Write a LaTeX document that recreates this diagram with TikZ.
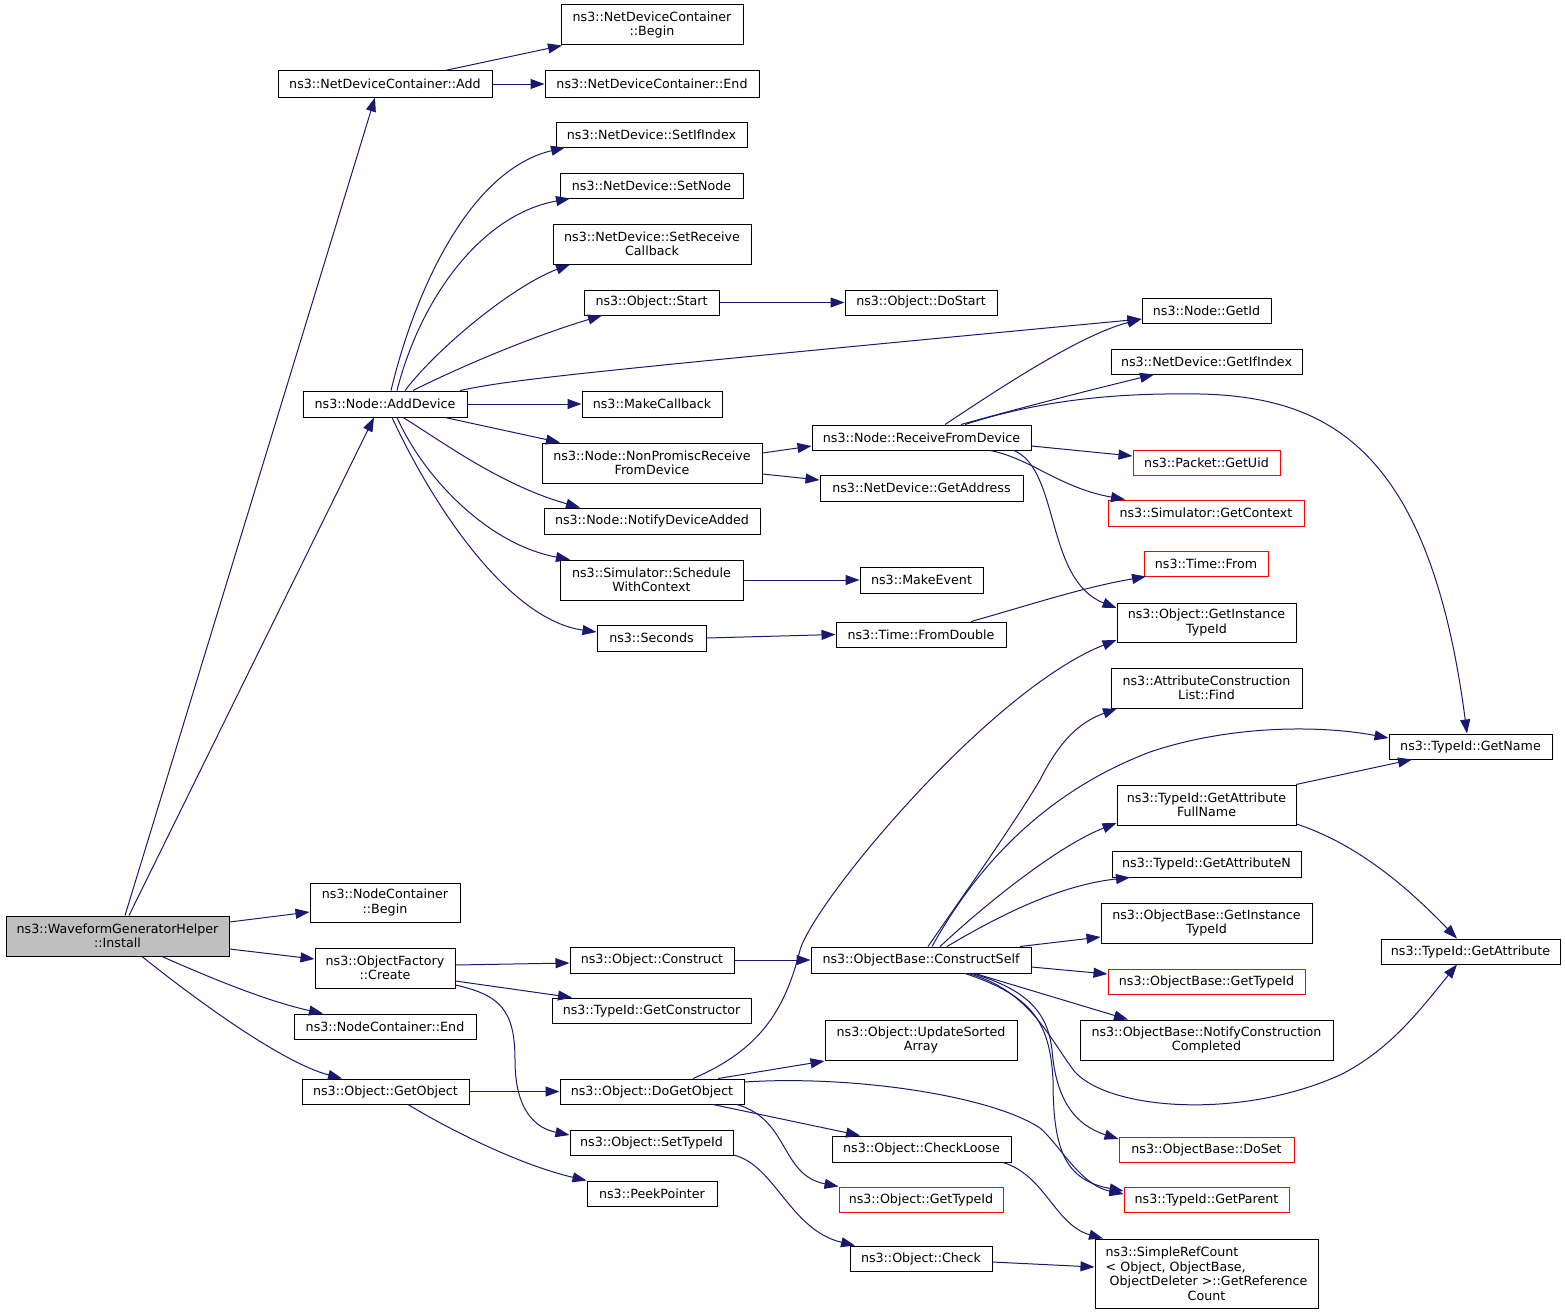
\documentclass[tikz,border=0pt]{standalone}
\usepackage{fontspec}
\setmainfont{DejaVu Sans}
\usetikzlibrary{arrows.meta}
\definecolor{edgeblue}{HTML}{191970}
\definecolor{fillgray}{HTML}{BFBFBF}
\tikzset{
  box/.style={draw=black, line width=0.75pt, fill=white, inner sep=0pt, align=center,
              font=\fontsize{9.5}{10.8}\selectfont},
  redbox/.style={draw=red},
  graybox/.style={fill=fillgray},
  edge/.style={draw=edgeblue, line width=0.75pt, -{Triangle[length=10.5pt,width=7.5pt]}},
}
\newcommand{\mybox}[7][]{%
  \pgfmathsetmacro\bxcx{(#3+#5)/2}%
  \pgfmathsetmacro\bxcy{(#4+#6)/2}%
  \pgfmathsetmacro\bxw{(#5-#3)*0.75}%
  \pgfmathsetmacro\bxh{(#6-#4)*0.75}%
  \node[box,#1,minimum width=\bxw pt,minimum height=\bxh pt] (#2) at (\bxcx,\bxcy) {#7};%
}
\begin{document}
\begin{tikzpicture}[x=0.75pt,y=-0.75pt]
\useasboundingbox (0,0) rectangle (1565,1313);
% nodes
\mybox[graybox]{install}{6}{916}{229}{956}{ns3::WaveformGeneratorHelper\\::Install}
\mybox{ncbegin}{310}{883}{460}{922}{ns3::NodeContainer\\::Begin}
\mybox{ofcreate}{315}{948}{455}{988}{ns3::ObjectFactory\\::Create}
\mybox{ncend}{294}{1014}{476}{1039}{ns3::NodeContainer::End}
\mybox{getobj}{302}{1079}{469}{1104}{ns3::Object::GetObject}
\mybox{add}{278}{71}{492}{97}{ns3::NetDeviceContainer::Add}
\mybox{ndcbegin}{561}{5}{743}{45}{ns3::NetDeviceContainer\\::Begin}
\mybox{ndcend}{545}{71}{759}{97}{ns3::NetDeviceContainer::End}
\mybox{setifidx}{556}{122}{747}{147}{ns3::NetDevice::SetIfIndex}
\mybox{setnode}{560}{173}{743}{198}{ns3::NetDevice::SetNode}
\mybox{setrecv}{553}{224}{751}{264}{ns3::NetDevice::SetReceive\\Callback}
\mybox{ostart}{584}{290}{719}{315}{ns3::Object::Start}
\mybox{adddev}{303}{391}{467}{417}{ns3::Node::AddDevice}
\mybox{mkcb}{582}{391}{722}{417}{ns3::MakeCallback}
\mybox{nonprom}{542}{443}{762}{483}{ns3::Node::NonPromiscReceive\\FromDevice}
\mybox{notify}{544}{508}{760}{534}{ns3::Node::NotifyDeviceAdded}
\mybox{sched}{560}{560}{743}{600}{ns3::Simulator::Schedule\\WithContext}
\mybox{secs}{597}{625}{706}{651}{ns3::Seconds}
\mybox{dostart}{845}{290}{997}{315}{ns3::Object::DoStart}
\mybox{gid}{1142}{298}{1271}{323}{ns3::Node::GetId}
\mybox{gifidx}{1111}{349}{1302}{374}{ns3::NetDevice::GetIfIndex}
\mybox{rfd}{812}{425}{1031}{450}{ns3::Node::ReceiveFromDevice}
\mybox[redbox]{uid}{1133}{450}{1280}{475}{ns3::Packet::GetUid}
\mybox{getaddr}{820}{475}{1023}{501}{ns3::NetDevice::GetAddress}
\mybox[redbox]{ctx}{1108}{500}{1304}{526}{ns3::Simulator::GetContext}
\mybox[redbox]{tfrom}{1144}{551}{1268}{576}{ns3::Time::From}
\mybox{mkevent}{860}{567}{983}{593}{ns3::MakeEvent}
\mybox{fromdbl}{836}{622}{1006}{647}{ns3::Time::FromDouble}
\mybox{goit}{1117}{603}{1296}{642}{ns3::Object::GetInstance\\TypeId}
\mybox{acl}{1111}{668}{1302}{708}{ns3::AttributeConstruction\\List::Find}
\mybox{gname}{1389}{734}{1552}{759}{ns3::TypeId::GetName}
\mybox{gafn}{1117}{785}{1296}{825}{ns3::TypeId::GetAttribute\\FullName}
\mybox{gan}{1112}{851}{1301}{877}{ns3::TypeId::GetAttributeN}
\mybox{obgit}{1101}{903}{1312}{943}{ns3::ObjectBase::GetInstance\\TypeId}
\mybox{gattr}{1381}{939}{1560}{964}{ns3::TypeId::GetAttribute}
\mybox[redbox]{obgtid}{1108}{969}{1305}{994}{ns3::ObjectBase::GetTypeId}
\mybox{ncc}{1080}{1020}{1333}{1060}{ns3::ObjectBase::NotifyConstruction\\Completed}
\mybox{construct}{570}{947}{734}{973}{ns3::Object::Construct}
\mybox{cself}{811}{947}{1031}{973}{ns3::ObjectBase::ConstructSelf}
\mybox{getctor}{552}{998}{751}{1023}{ns3::TypeId::GetConstructor}
\mybox{upd}{825}{1020}{1017}{1060}{ns3::Object::UpdateSorted\\Array}
\mybox{dgo}{560}{1079}{744}{1104}{ns3::Object::DoGetObject}
\mybox{settid}{570}{1130}{733}{1155}{ns3::Object::SetTypeId}
\mybox{chkloose}{832}{1136}{1011}{1162}{ns3::Object::CheckLoose}
\mybox{peek}{587}{1181}{717}{1206}{ns3::PeekPointer}
\mybox[redbox]{ogtid}{839}{1187}{1003}{1212}{ns3::Object::GetTypeId}
\mybox{check}{850}{1246}{992}{1271}{ns3::Object::Check}
\mybox[redbox]{doset}{1119}{1137}{1294}{1162}{ns3::ObjectBase::DoSet}
\mybox[redbox]{gparent}{1124}{1187}{1289}{1212}{ns3::TypeId::GetParent}
\mybox{src}{1095}{1239}{1318}{1308}{\begin{tabular}[b]{@{}l@{}}ns3::SimpleRefCount\\< Object, ObjectBase,\\\ ObjectDeleter >::GetReference\end{tabular}\\Count}
% edges from Install
\draw[edge] (install.north -| 125,0) -- (add.south -| 375,0);
\draw[edge] (install.north -| 129,0) -- (adddev.south -| 374,0);
\draw[edge] (install.east |- 0,922) -- (ncbegin.west |- 0,912);
\draw[edge] (install.east |- 0,949) -- (ofcreate.west |- 0,959);
\draw[edge] (install.south -| 162,0) .. controls (215,980) and (270,1002) .. (ncend.north -| 323,0);
\draw[edge] (install.south -| 142,0) .. controls (190,995) and (280,1062) .. (getobj.north -| 342,0);
% Add
\draw[edge] (add.north -| 445,0) -- (ndcbegin.south -| 562,0);
\draw[edge] (add.east) -- (ndcend.west);
% AddDevice
\draw[edge] (adddev.north -| 391,0) .. controls (415,290) and (470,170) .. (setifidx.south -| 565,0);
\draw[edge] (adddev.north -| 397,0) .. controls (420,300) and (480,215) .. (setnode.south -| 570,0);
\draw[edge] (adddev.north -| 405,0) .. controls (440,345) and (515,285) .. (setrecv.south -| 570,0);
\draw[edge] (adddev.north -| 413,0) .. controls (470,362) and (540,334) .. (ostart.south -| 602,0);
\draw[edge] (adddev.north -| 460,0) .. controls (510,380) and (560,374) .. (gid.west |- 0,319);
\draw[edge] (adddev.east) -- (mkcb.west);
\draw[edge] (adddev.south -| 445,0) -- (nonprom.north -| 560,0);
\draw[edge] (adddev.south -| 403,0) .. controls (440,440) and (500,485) .. (notify.north -| 580,0);
\draw[edge] (adddev.south -| 397,0) .. controls (425,480) and (490,545) .. (sched.north -| 570,0);
\draw[edge] (adddev.south -| 392,0) .. controls (435,510) and (510,620) .. (secs.west |- 0,632);
% middle column
\draw[edge] (ostart.east) -- (dostart.west);
\draw[edge] (nonprom.east |- 0,453) -- (rfd.west |- 0,446);
\draw[edge] (nonprom.east |- 0,474) -- (getaddr.west |- 0,480);
\draw[edge] (sched.east) -- (mkevent.west);
\draw[edge] (secs.east) -- (fromdbl.west);
\draw[edge] (fromdbl.north -| 971,0) .. controls (1030,605) and (1080,588) .. (tfrom.south -| 1146,0);
% ReceiveFromDevice
\draw[edge] (rfd.north -| 945,0) .. controls (1000,388) and (1080,335) .. (gid.west |- 0,319);
\draw[edge] (rfd.north -| 961,0) .. controls (1020,408) and (1090,390) .. (gifidx.south -| 1154,0);
\draw[edge] (rfd.north -| 965,0) .. controls (1050,397) and (1130,393) .. (1200,394) .. controls (1330,397) and (1430,450) .. (gname.north -| 1467,0);
\draw[edge] (rfd.east |- 0,446) -- (uid.west |- 0,456);
\draw[edge] (rfd.south -| 990,0) .. controls (1030,458) and (1060,488) .. (ctx.north -| 1125,0);
\draw[edge] (rfd.south -| 1014,0) .. controls (1060,470) and (1045,580) .. (goit.west |- 0,608);
% DoGetObject
\draw[edge] (dgo.north -| 693,0) .. controls (760,1050) and (785,1010) .. (800,950) .. controls (815,900) and (990,690) .. (goit.west |- 0,640);
\draw[edge] (dgo.north -| 718,0) -- (upd.west |- 0,1061);
\draw[edge] (dgo.east |- 0,1082) .. controls (850,1075) and (990,1095) .. (1040,1128) .. controls (1060,1145) and (1080,1185) .. (gparent.west |- 0,1194);
\draw[edge] (dgo.south -| 713,0) -- (chkloose.north -| 860,0);
\draw[edge] (dgo.south -| 737,0) .. controls (790,1120) and (780,1175) .. (ogtid.north west);
% GetObject
\draw[edge] (getobj.east) -- (dgo.west);
\draw[edge] (getobj.south -| 408,0) .. controls (450,1130) and (520,1165) .. (peek.north west);
% ObjectFactory::Create
\draw[edge] (ofcreate.east |- 0,965) -- (construct.west |- 0,963);
\draw[edge] (ofcreate.east |- 0,981) -- (getctor.north -| 572,0);
\draw[edge] (ofcreate.east |- 0,985) .. controls (500,995) and (515,1010) .. (515,1060) .. controls (515,1110) and (535,1128) .. (settid.west |- 0,1135);
\draw[edge] (construct.east) -- (cself.west);
\draw[edge] (settid.east |- 0,1155) .. controls (775,1165) and (790,1230) .. (check.north -| 855,0);
\draw[edge] (chkloose.south -| 1003,0) .. controls (1045,1175) and (1055,1225) .. (src.north -| 1103,0);
\draw[edge] (check.east |- 0,1262) -- (src.west |- 0,1267);
% ConstructSelf
\draw[edge] (cself.north -| 928,0) .. controls (960,900) and (1010,830) .. (1040,780) .. controls (1060,740) and (1080,722) .. (acl.south -| 1117,0);
\draw[edge] (cself.north -| 932,0) .. controls (980,860) and (1050,790) .. (1150,752) .. controls (1230,725) and (1320,725) .. (gname.west |- 0,738);
\draw[edge] (cself.north -| 940,0) .. controls (990,900) and (1060,845) .. (gafn.west |- 0,823);
\draw[edge] (cself.north -| 947,0) .. controls (1000,915) and (1060,885) .. (gan.south -| 1130,0);
\draw[edge] (cself.north -| 1020,0) -- (obgit.west |- 0,937);
\draw[edge] (cself.east |- 0,967) -- (obgtid.west |- 0,974);
\draw[edge] (cself.south -| 975,0) -- (ncc.north -| 1128,0);
\draw[edge] (cself.south -| 968,0) .. controls (1030,990) and (1050,1040) .. (1075,1072) .. controls (1110,1110) and (1240,1120) .. (1340,1075) .. controls (1390,1050) and (1420,1010) .. (gattr.south -| 1457,0);
\draw[edge] (cself.south -| 972,0) .. controls (1030,990) and (1048,1015) .. (1052,1050) .. controls (1056,1100) and (1075,1125) .. (doset.west |- 0,1139);
\draw[edge] (cself.south -| 965,0) .. controls (1030,995) and (1050,1020) .. (1053,1080) .. controls (1053,1150) and (1065,1180) .. (gparent.west |- 0,1191);
% GetAttributeFullName
\draw[edge] (gafn.north -| 1296,0) -- (gname.south -| 1412,0);
\draw[edge] (gafn.east |- 0,824) .. controls (1360,845) and (1410,890) .. (gattr.north -| 1457,0);
\end{tikzpicture}
\end{document}
